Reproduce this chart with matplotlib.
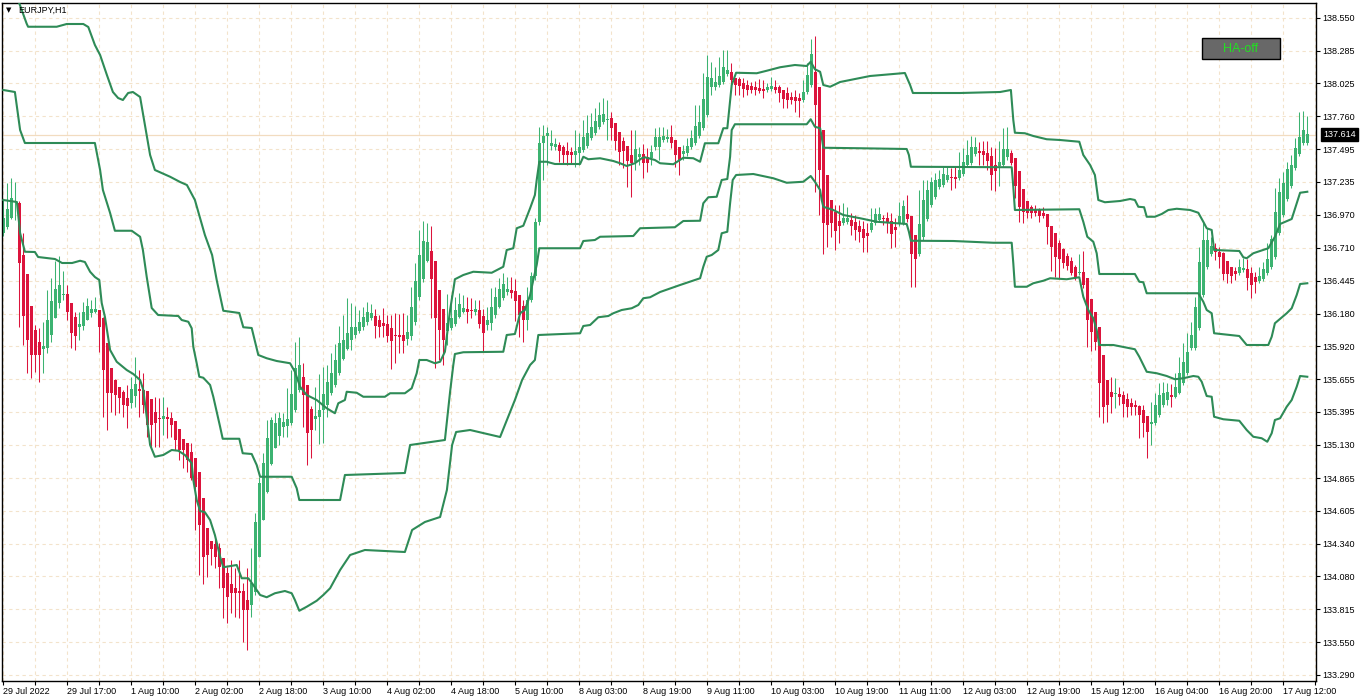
import matplotlib
matplotlib.use("Agg")
import numpy as np
import matplotlib.pyplot as plt
from matplotlib.patches import Rectangle
from matplotlib.transforms import blended_transform_factory

plt.rcParams["font.family"] = ["Liberation Sans", "DejaVu Sans"]

SYMBOL = "EURJPY,H1"
BID = 137.614

# hourly bars from 29 Jul 01:00 onwards
bar_open = [
    136.826, 136.874, 136.946, 137.074, 137.066, 136.650, 136.498, 136.242, 136.050, 135.954,
    135.898, 135.906, 136.010, 136.146, 136.266, 136.330, 136.338, 136.266, 136.154, 136.074,
    136.082, 136.130, 136.186, 136.194, 136.210, 136.146, 135.946, 135.746, 135.650, 135.594,
    135.554, 135.506, 135.466, 135.522, 135.578, 135.570, 135.562, 135.498, 135.394, 135.346,
    135.338, 135.354, 135.346, 135.322, 135.258, 135.178, 135.146, 135.074, 135.026, 134.914,
    134.706, 134.466, 134.362, 134.338, 134.306, 134.226, 134.106, 134.018, 133.986, 133.962,
    133.962, 133.890, 133.850, 133.954, 134.234, 134.530, 134.754, 134.978, 135.106, 135.202,
    135.274, 135.282, 135.306, 135.410, 135.570, 135.674, 135.610, 135.418, 135.338, 135.354,
    135.410, 135.450, 135.546, 135.610, 135.706, 135.818, 135.898, 135.970, 136.010, 136.042,
    136.074, 136.114, 136.146, 136.162, 136.130, 136.106, 136.098, 136.066, 136.010, 136.010,
    136.010, 135.978, 136.002, 136.114, 136.314, 136.458, 136.602, 136.682, 136.602, 136.370,
    136.218, 136.042, 136.066, 136.098, 136.154, 136.194, 136.218, 136.210, 136.194, 136.210,
    136.162, 136.090, 136.106, 136.170, 136.234, 136.306, 136.354, 136.370, 136.362, 136.330,
    136.242, 136.130, 136.290, 136.482, 136.914, 137.546, 137.602, 137.522, 137.514, 137.530,
    137.514, 137.482, 137.474, 137.450, 137.466, 137.490, 137.522, 137.586, 137.626, 137.674,
    137.714, 137.730, 137.746, 137.706, 137.634, 137.562, 137.522, 137.450, 137.394, 137.434,
    137.458, 137.434, 137.426, 137.514, 137.514, 137.570, 137.578, 137.594, 137.570, 137.514,
    137.458, 137.466, 137.514, 137.546, 137.602, 137.666, 137.770, 137.994, 137.994, 138.010,
    138.034, 138.098, 138.114, 138.066, 138.058, 138.026, 138.010, 138.002, 137.994, 137.986,
    137.978, 137.970, 137.978, 137.994, 137.994, 137.970, 137.946, 137.914, 137.914, 137.906,
    137.890, 137.954, 138.010, 138.114, 137.994, 137.650, 137.290, 137.090, 136.994, 136.922,
    136.906, 136.914, 136.930, 136.914, 136.882, 136.858, 136.826, 136.850, 136.906, 136.930,
    136.946, 136.946, 136.922, 136.874, 136.898, 136.906, 136.978, 136.962, 136.810, 136.658,
    136.794, 136.938, 137.050, 137.114, 137.194, 137.210, 137.250, 137.274, 137.274, 137.266,
    137.298, 137.370, 137.386, 137.458, 137.482, 137.482, 137.466, 137.442, 137.370, 137.362,
    137.370, 137.434, 137.466, 137.426, 137.322, 137.178, 137.082, 137.034, 137.018, 137.010,
    136.986, 136.978, 136.882, 136.826, 136.746, 136.698, 136.642, 136.602, 136.554, 136.506,
    136.514, 136.466, 136.298, 136.194, 136.074, 135.850, 135.650, 135.554, 135.538, 135.538,
    135.530, 135.498, 135.466, 135.450, 135.442, 135.410, 135.362, 135.298, 135.306, 135.370,
    135.450, 135.490, 135.530, 135.514, 135.546, 135.626, 135.706, 135.906, 135.906, 136.066,
    136.330, 136.554, 136.658, 136.706, 136.674, 136.666, 136.602, 136.554, 136.522, 136.506,
    136.530, 136.538, 136.506, 136.474, 136.442, 136.458, 136.506, 136.554, 136.634, 136.826,
    136.970, 137.098, 137.202, 137.346, 137.458, 137.546, 137.546,
]
bar_high = [
    137.090, 137.226, 137.266, 137.234, 137.082, 136.826, 136.498, 136.242, 136.090, 136.066,
    136.114, 136.370, 136.466, 136.602, 136.642, 136.522, 136.410, 136.266, 136.194, 136.194,
    136.274, 136.306, 136.290, 136.314, 136.210, 136.154, 135.946, 135.746, 135.658, 135.594,
    135.570, 135.610, 135.674, 135.834, 135.730, 135.706, 135.562, 135.498, 135.514, 135.506,
    135.514, 135.434, 135.394, 135.322, 135.258, 135.178, 135.146, 135.146, 135.026, 134.914,
    134.706, 134.466, 134.362, 134.386, 134.346, 134.226, 134.154, 134.210, 134.146, 134.210,
    134.026, 134.146, 134.306, 134.586, 134.874, 135.066, 135.330, 135.354, 135.386, 135.394,
    135.386, 135.586, 135.730, 135.954, 135.994, 135.786, 135.610, 135.442, 135.594, 135.698,
    135.754, 135.770, 135.866, 135.938, 136.082, 136.170, 136.306, 136.266, 136.242, 136.210,
    136.234, 136.274, 136.258, 136.218, 136.170, 136.226, 136.170, 136.170, 136.186, 136.178,
    136.186, 136.170, 136.394, 136.586, 136.850, 136.922, 136.906, 136.882, 136.602, 136.370,
    136.218, 136.338, 136.330, 136.314, 136.346, 136.330, 136.314, 136.306, 136.290, 136.290,
    136.218, 136.234, 136.386, 136.394, 136.466, 136.506, 136.474, 136.474, 136.458, 136.330,
    136.290, 136.394, 136.514, 136.946, 137.674, 137.690, 137.674, 137.650, 137.586, 137.554,
    137.530, 137.554, 137.514, 137.650, 137.626, 137.730, 137.770, 137.786, 137.826, 137.874,
    137.906, 137.890, 137.794, 137.706, 137.634, 137.594, 137.522, 137.650, 137.650, 137.514,
    137.538, 137.506, 137.530, 137.666, 137.674, 137.674, 137.658, 137.690, 137.570, 137.514,
    137.530, 137.586, 137.650, 137.850, 137.850, 138.106, 138.250, 138.194, 138.154, 138.234,
    138.290, 138.290, 138.186, 138.066, 138.074, 138.066, 138.050, 138.034, 138.042, 138.058,
    138.050, 138.026, 138.074, 138.050, 138.010, 137.970, 137.994, 137.954, 137.970, 137.946,
    138.050, 138.186, 138.378, 138.402, 137.994, 137.650, 137.290, 137.090, 137.050, 137.050,
    137.066, 137.034, 136.986, 136.970, 136.930, 136.922, 136.906, 137.026, 137.026, 137.034,
    136.970, 136.994, 136.986, 136.946, 137.074, 137.090, 137.130, 136.962, 136.810, 137.170,
    137.250, 137.250, 137.274, 137.306, 137.330, 137.354, 137.354, 137.346, 137.354, 137.474,
    137.506, 137.570, 137.602, 137.594, 137.554, 137.562, 137.562, 137.514, 137.506, 137.562,
    137.666, 137.674, 137.490, 137.426, 137.322, 137.178, 137.082, 137.050, 137.050, 137.026,
    137.034, 136.978, 136.882, 136.826, 136.770, 136.706, 136.666, 136.634, 136.570, 136.658,
    136.682, 136.466, 136.298, 136.194, 136.074, 135.850, 135.650, 135.674, 135.666, 135.594,
    135.562, 135.546, 135.506, 135.490, 135.450, 135.450, 135.362, 135.474, 135.546, 135.626,
    135.634, 135.626, 135.618, 135.706, 135.834, 135.946, 136.026, 136.114, 136.314, 136.714,
    136.914, 136.866, 136.794, 136.746, 136.714, 136.674, 136.602, 136.554, 136.554, 136.618,
    136.626, 136.618, 136.554, 136.514, 136.554, 136.594, 136.746, 136.810, 137.186, 137.266,
    137.314, 137.394, 137.450, 137.586, 137.794, 137.802, 137.762,
]
bar_low = [
    136.802, 136.858, 136.938, 136.930, 136.074, 135.930, 135.706, 135.666, 135.714, 135.634,
    135.706, 135.866, 135.954, 136.146, 136.226, 136.290, 136.130, 135.906, 135.890, 135.970,
    136.050, 136.130, 136.154, 136.186, 135.874, 135.354, 135.250, 135.394, 135.370, 135.386,
    135.354, 135.266, 135.426, 135.434, 135.354, 135.386, 135.194, 135.114, 135.114, 135.114,
    135.210, 135.186, 135.194, 135.090, 135.010, 134.946, 134.914, 134.850, 134.450, 134.090,
    134.018, 134.074, 134.170, 134.146, 133.986, 133.746, 133.706, 133.786, 133.754, 133.746,
    133.554, 133.490, 133.754, 133.930, 134.234, 134.530, 134.746, 134.970, 135.106, 135.130,
    135.194, 135.194, 135.290, 135.394, 135.554, 135.274, 134.970, 135.026, 135.250, 135.138,
    135.146, 135.354, 135.530, 135.594, 135.690, 135.810, 135.890, 135.890, 135.986, 136.026,
    136.050, 136.090, 136.130, 135.986, 135.994, 135.994, 135.954, 135.738, 135.786, 135.866,
    135.866, 135.930, 135.970, 136.090, 136.290, 136.434, 136.594, 136.146, 135.746, 135.810,
    135.770, 135.930, 136.050, 136.082, 136.146, 136.186, 136.106, 136.146, 136.170, 136.066,
    135.874, 136.050, 136.050, 136.146, 136.226, 136.290, 136.330, 136.306, 136.122, 135.994,
    135.954, 136.050, 136.274, 136.450, 136.890, 137.250, 137.370, 137.490, 137.490, 137.394,
    137.386, 137.370, 137.386, 137.354, 137.370, 137.474, 137.506, 137.570, 137.610, 137.658,
    137.698, 137.570, 137.570, 137.490, 137.370, 137.346, 137.194, 137.114, 137.330, 137.370,
    137.266, 137.314, 137.370, 137.490, 137.410, 137.554, 137.554, 137.506, 137.354, 137.290,
    137.410, 137.442, 137.498, 137.530, 137.586, 137.650, 137.754, 137.930, 137.970, 137.994,
    138.018, 138.082, 138.010, 137.930, 137.930, 137.914, 137.930, 137.946, 137.930, 137.946,
    137.906, 137.954, 137.962, 137.946, 137.874, 137.826, 137.826, 137.858, 137.794, 137.754,
    137.874, 137.938, 137.994, 137.154, 136.970, 136.658, 136.714, 136.794, 136.690, 136.746,
    136.890, 136.898, 136.810, 136.770, 136.754, 136.674, 136.674, 136.834, 136.890, 136.914,
    136.890, 136.826, 136.706, 136.714, 136.882, 136.890, 136.914, 136.394, 136.394, 136.642,
    136.770, 136.922, 137.034, 137.098, 137.178, 137.194, 137.234, 137.170, 137.186, 137.250,
    137.282, 137.354, 137.370, 137.442, 137.370, 137.370, 137.330, 137.170, 137.162, 137.202,
    137.354, 137.410, 137.370, 137.106, 136.914, 136.906, 136.946, 136.946, 136.962, 136.914,
    136.946, 136.738, 136.522, 136.474, 136.466, 136.546, 136.530, 136.490, 136.450, 136.490,
    136.386, 135.914, 135.882, 135.890, 135.354, 135.306, 135.314, 135.386, 135.426, 135.450,
    135.354, 135.354, 135.370, 135.370, 135.186, 135.194, 135.026, 135.130, 135.290, 135.354,
    135.434, 135.450, 135.434, 135.506, 135.538, 135.610, 135.690, 135.890, 135.890, 136.050,
    136.314, 136.538, 136.642, 136.610, 136.546, 136.450, 136.426, 136.426, 136.450, 136.490,
    136.514, 136.370, 136.306, 136.346, 136.426, 136.442, 136.490, 136.538, 136.618, 136.810,
    136.954, 137.082, 137.186, 137.330, 137.442, 137.530, 137.530,
]
bar_close = [
    136.946, 137.018, 137.106, 137.082, 136.586, 136.162, 135.970, 135.850, 135.850, 135.850,
    135.922, 136.130, 136.282, 136.378, 136.410, 136.338, 136.194, 136.026, 136.002, 136.098,
    136.194, 136.242, 136.218, 136.218, 136.074, 135.730, 135.546, 135.546, 135.530, 135.506,
    135.450, 135.442, 135.578, 135.618, 135.562, 135.450, 135.290, 135.290, 135.306, 135.338,
    135.362, 135.338, 135.290, 135.170, 135.090, 135.090, 135.010, 134.866, 134.794, 134.490,
    134.234, 134.250, 134.298, 134.234, 134.154, 133.986, 133.914, 133.946, 133.946, 133.946,
    133.810, 133.810, 134.026, 134.514, 134.826, 134.986, 135.186, 135.330, 135.306, 135.346,
    135.314, 135.338, 135.538, 135.746, 135.770, 135.530, 135.226, 135.250, 135.362, 135.410,
    135.538, 135.634, 135.706, 135.810, 135.946, 135.970, 136.026, 136.074, 136.074, 136.114,
    136.154, 136.194, 136.186, 136.082, 136.074, 136.082, 136.002, 135.962, 136.002, 135.994,
    135.962, 136.034, 136.234, 136.442, 136.650, 136.762, 136.754, 136.458, 136.146, 136.050,
    135.970, 136.106, 136.146, 136.210, 136.258, 136.226, 136.194, 136.202, 136.218, 136.098,
    136.026, 136.130, 136.234, 136.314, 136.378, 136.418, 136.378, 136.346, 136.282, 136.170,
    136.130, 136.290, 136.482, 136.914, 137.546, 137.602, 137.626, 137.546, 137.538, 137.482,
    137.450, 137.450, 137.450, 137.482, 137.514, 137.594, 137.626, 137.674, 137.722, 137.770,
    137.778, 137.738, 137.666, 137.562, 137.474, 137.482, 137.402, 137.386, 137.498, 137.458,
    137.386, 137.386, 137.474, 137.594, 137.594, 137.602, 137.594, 137.546, 137.450, 137.410,
    137.482, 137.522, 137.586, 137.682, 137.714, 137.898, 138.074, 138.066, 138.034, 138.082,
    138.154, 138.130, 138.050, 138.010, 138.002, 137.978, 137.970, 137.970, 137.970, 137.962,
    137.962, 137.994, 138.002, 137.970, 137.946, 137.898, 137.890, 137.890, 137.882, 137.882,
    137.954, 138.090, 138.258, 137.850, 137.330, 136.906, 136.890, 136.906, 136.842, 136.882,
    136.946, 136.946, 136.882, 136.850, 136.834, 136.786, 136.802, 136.906, 136.978, 136.978,
    136.938, 136.914, 136.818, 136.850, 136.962, 137.042, 136.938, 136.658, 136.618, 136.898,
    137.090, 137.170, 137.234, 137.250, 137.258, 137.298, 137.290, 137.266, 137.258, 137.330,
    137.394, 137.450, 137.514, 137.514, 137.466, 137.450, 137.402, 137.290, 137.322, 137.394,
    137.498, 137.498, 137.386, 137.202, 137.034, 136.994, 136.986, 136.986, 136.986, 136.962,
    136.962, 136.874, 136.714, 136.634, 136.618, 136.586, 136.562, 136.506, 136.474, 136.514,
    136.410, 136.130, 136.034, 135.954, 135.626, 135.434, 135.450, 135.514, 135.546, 135.514,
    135.458, 135.434, 135.434, 135.434, 135.370, 135.306, 135.234, 135.314, 135.450, 135.530,
    135.546, 135.554, 135.514, 135.594, 135.706, 135.794, 135.874, 136.010, 136.234, 136.594,
    136.770, 136.770, 136.722, 136.674, 136.634, 136.498, 136.498, 136.482, 136.498, 136.554,
    136.546, 136.466, 136.410, 136.434, 136.482, 136.538, 136.618, 136.778, 136.994, 137.154,
    137.226, 137.338, 137.370, 137.506, 137.594, 137.650, 137.614,
]

# channel lines: (bar index, price) vertices
upper_band = [
    (0, 139.05), (3.7, 138.69), (5.85, 138.50), (6.2, 138.476), (13.35, 138.476), (15.85, 138.498),
    (20, 138.498), (21.25, 138.474), (22.9, 138.33), (24.2, 138.25), (25.9, 138.09), (27.4, 137.954),
    (28.7, 137.906), (29.9, 137.89), (31.2, 137.946), (32.4, 137.954), (34.2, 137.914), (35.4, 137.69),
    (36.7, 137.45), (37.9, 137.33), (41.7, 137.276), (44.2, 137.234), (45.9, 137.21), (47.9, 137.09),
    (50.4, 136.81), (52.2, 136.65), (53.35, 136.45), (55, 136.204), (59, 136.186), (60, 136.072),
    (62.1, 136.066), (63.75, 135.85), (65.85, 135.824), (68.35, 135.802), (71.7, 135.784), (72.9, 135.716),
    (74.2, 135.596), (75.85, 135.53), (78.35, 135.49), (80.85, 135.424), (82.9, 135.384), (83.75, 135.464),
    (85.4, 135.49), (85.85, 135.556), (88.35, 135.548), (90, 135.516), (95.4, 135.516), (96.7, 135.544),
    (100.4, 135.544), (102.1, 135.584), (103.35, 135.704), (104, 135.81), (105.85, 135.81), (107.9, 135.784),
    (109.2, 135.796), (110.4, 135.876), (111.7, 136.21), (112.5, 136.37), (112.9, 136.456), (115, 136.49),
    (117.5, 136.516), (122.1, 136.508), (125, 136.556), (125.85, 136.69), (127.5, 136.704), (128.35, 136.864),
    (130, 136.884), (131.7, 137.024), (132.9, 137.13), (133.35, 137.25), (134, 137.396), (135.85, 137.396),
    (137.9, 137.378), (144.2, 137.378), (145, 137.436), (146.25, 137.416), (149.2, 137.424), (152.5, 137.402),
    (154.2, 137.384), (155.85, 137.362), (157.9, 137.384), (159.6, 137.424), (160.4, 137.432), (162.9, 137.41),
    (164.2, 137.384), (167.5, 137.376), (170, 137.428), (172.5, 137.424), (174.2, 137.396), (175.4, 137.544),
    (178.75, 137.544), (180, 137.664), (181, 137.664), (182.1, 138.01), (183.2, 138.108), (188.35, 138.104),
    (190.85, 138.124), (194.2, 138.152), (197.9, 138.17), (200.85, 138.162), (201.85, 138.196), (202.9, 138.136),
    (204.2, 138.116), (205, 138.01), (206.7, 137.996), (209.2, 138.034), (216.7, 138.082), (225.4, 138.106),
    (226.7, 138.01), (227.4, 137.946), (239.2, 137.946), (249.2, 137.954), (251.9, 137.97), (252.5, 137.73),
    (252.9, 137.628), (255.4, 137.624), (257.5, 137.602), (260.85, 137.576), (264.2, 137.57), (269, 137.556),
    (270, 137.45), (271.7, 137.37), (272.9, 137.29), (273.75, 137.09), (275.4, 137.072), (279.2, 137.082),
    (281.7, 137.098), (282.9, 137.09), (283.75, 137.036), (285.2, 137.032), (285.85, 136.956), (287.9, 136.956),
    (289.6, 136.978), (291.25, 137.01), (293.35, 137.02), (296.7, 137.01), (298.75, 136.988), (300, 136.916),
    (300.85, 136.864), (302.1, 136.85), (302.7, 136.69), (309, 136.682), (310, 136.632), (310.85, 136.624),
    (312.5, 136.664), (316.25, 136.704), (317.9, 136.796), (319.2, 136.898), (322.1, 136.938), (323.35, 137.064),
    (324.2, 137.148), (326, 137.156),
]
middle_band = [
    (0, 137.97), (2.9, 137.954), (4.2, 137.65), (5.4, 137.546), (22.9, 137.546), (24.2, 137.33),
    (24.9, 137.17), (26.7, 136.986), (27.9, 136.844), (32.1, 136.844), (34.2, 136.796), (34.9, 136.69),
    (35.85, 136.476), (37.1, 136.226), (38.7, 136.17), (43.75, 136.162), (44.6, 136.13), (46.25, 136.116),
    (47.1, 136.064), (47.5, 135.916), (48.35, 135.784), (49, 135.676), (50, 135.668), (51.7, 135.61),
    (52.5, 135.516), (53.35, 135.396), (54.2, 135.276), (54.85, 135.18), (59, 135.18), (59.85, 135.064),
    (62.1, 135.058), (63.35, 134.97), (64.2, 134.876), (72.1, 134.876), (73.35, 134.784), (74, 134.69),
    (84.2, 134.69), (85.4, 134.89), (100.4, 134.906), (101.7, 135.13), (110.4, 135.17), (111.7, 135.556),
    (112.5, 135.77), (112.9, 135.858), (115, 135.872), (125, 135.876), (125.85, 136.01), (127.9, 136.018),
    (129.2, 136.184), (130.4, 136.21), (131.7, 136.33), (132.5, 136.45), (133.35, 136.57), (134, 136.704),
    (144.2, 136.704), (145, 136.762), (147.9, 136.77), (149.2, 136.796), (157.5, 136.802), (159.2, 136.864),
    (167.9, 136.872), (170, 136.922), (174.2, 136.924), (175, 137.064), (176.25, 137.112), (178.35, 137.116),
    (179.6, 137.25), (181, 137.258), (181.7, 137.436), (182.1, 137.65), (182.9, 137.696), (200.85, 137.696),
    (201.85, 137.736), (202.9, 137.676), (204.2, 137.664), (204.6, 137.596), (205, 137.508), (214.2, 137.504),
    (225.85, 137.498), (226.4, 137.45), (226.9, 137.356), (252.1, 137.352), (252.5, 137.196), (252.9, 137.01),
    (269, 137.016), (270, 136.916), (271, 136.796), (272.5, 136.756), (273.35, 136.664), (274, 136.498),
    (282.9, 136.498), (284, 136.436), (285, 136.432), (285.85, 136.344), (298.75, 136.344), (300, 136.276),
    (300.85, 136.21), (302.1, 136.184), (302.7, 136.024), (309, 136.002), (310.85, 135.93), (316.25, 135.93),
    (317.1, 135.996), (317.9, 136.104), (320.85, 136.184), (322.1, 136.224), (323.35, 136.33), (324.2, 136.418),
    (326, 136.424),
]
lower_band = [
    (0, 137.09), (3.4, 137.074), (4.2, 136.826), (5.4, 136.676), (7.9, 136.674), (8.7, 136.634),
    (12.9, 136.618), (14.7, 136.586), (17.2, 136.586), (19.2, 136.604), (20.4, 136.594), (21.7, 136.516),
    (22.9, 136.474), (24, 136.45), (24.6, 136.266), (25.4, 136.156), (26.7, 135.89), (28.35, 135.796),
    (30.85, 135.73), (32.5, 135.698), (34.2, 135.65), (35, 135.57), (35.85, 135.356), (36.7, 135.13),
    (37.9, 135.036), (40, 135.05), (42.1, 135.09), (43.75, 135.084), (45.4, 135.05), (47.1, 134.984),
    (47.5, 134.85), (48.35, 134.69), (49.2, 134.602), (50.4, 134.592), (51.7, 134.53), (52.9, 134.41),
    (54.2, 134.236), (55, 134.152), (58.35, 134.17), (59.6, 134.064), (61.25, 134.064), (62.5, 134.01),
    (64.2, 133.93), (65.85, 133.912), (67.9, 133.944), (70.4, 133.962), (72.1, 133.944), (72.9, 133.89),
    (74, 133.804), (75.85, 133.836), (78.35, 133.884), (80, 133.93), (81.7, 133.984), (84.2, 134.13),
    (86.7, 134.25), (90.4, 134.29), (100.4, 134.274), (102.2, 134.45), (105.4, 134.514), (109.2, 134.554),
    (110.9, 134.77), (112.2, 135.13), (113.2, 135.234), (116.7, 135.25), (124.2, 135.194), (125.9, 135.33),
    (127.9, 135.49), (129.7, 135.65), (131.7, 135.77), (132.9, 135.81), (133.75, 136.01), (144.2, 136.024),
    (145, 136.082), (146.7, 136.09), (148.75, 136.152), (151.25, 136.162), (152.5, 136.184), (154.6, 136.21),
    (157.1, 136.224), (158.75, 136.25), (160, 136.304), (161.7, 136.312), (164.2, 136.354), (169.2, 136.41),
    (174.2, 136.464), (175, 136.556), (175.85, 136.636), (177.1, 136.65), (178.75, 136.69), (179.6, 136.824),
    (181, 136.836), (181.7, 137.064), (182.35, 137.25), (183.2, 137.29), (187.5, 137.298), (192.5, 137.264),
    (195.85, 137.228), (200, 137.236), (201.85, 137.282), (202.9, 137.236), (204.2, 137.17), (204.6, 137.09),
    (205, 137.036), (207.5, 137.01), (210, 136.97), (214.2, 136.944), (218.35, 136.916), (225.85, 136.898),
    (226.4, 136.836), (226.9, 136.764), (237.5, 136.762), (241.7, 136.756), (247.5, 136.748), (252.1, 136.748),
    (252.5, 136.584), (252.9, 136.396), (255.85, 136.396), (257.5, 136.424), (260, 136.444), (261.7, 136.464),
    (265.85, 136.456), (269, 136.472), (270, 136.316), (271.25, 136.21), (272.5, 136.144), (273.35, 136.05),
    (274, 135.93), (277.5, 135.93), (282.9, 135.896), (284, 135.836), (285.85, 135.716), (288.35, 135.704),
    (290.85, 135.682), (292.9, 135.656), (295, 135.664), (297.5, 135.682), (298.75, 135.676), (299.6, 135.636),
    (300.85, 135.522), (302.1, 135.516), (302.7, 135.356), (305, 135.336), (309, 135.324), (310.85, 135.25),
    (312.5, 135.196), (314.6, 135.184), (316, 135.156), (317.1, 135.224), (317.9, 135.33), (319.2, 135.344),
    (320.85, 135.436), (322.1, 135.49), (323.35, 135.596), (324.2, 135.682), (326, 135.676),
]

price_labels = ["138.550", "138.285", "138.025", "137.760", "137.495", "137.235", "136.970",
                "136.710", "136.445", "136.180", "135.920", "135.655", "135.395", "135.130",
                "134.865", "134.605", "134.340", "134.080", "133.815", "133.550", "133.290"]
time_labels = ["29 Jul 2022", "29 Jul 17:00", "1 Aug 10:00", "2 Aug 02:00", "2 Aug 18:00",
               "3 Aug 10:00", "4 Aug 02:00", "4 Aug 18:00", "5 Aug 10:00", "8 Aug 03:00",
               "8 Aug 19:00", "9 Aug 11:00", "10 Aug 03:00", "10 Aug 19:00", "11 Aug 11:00",
               "12 Aug 03:00", "12 Aug 19:00", "15 Aug 12:00", "16 Aug 04:00", "16 Aug 20:00",
               "17 Aug 12:00"]

BULL = "#3cb371"
BEAR = "#dc143c"
BAND = "#2e8b57"
GRID = "#f3e3cb"

W, H = 1362, 700
fig = plt.figure(figsize=(W / 100, H / 100), dpi=100)
fig.patch.set_facecolor("white")
ax = fig.add_axes([2 / W, 19 / H, 1314 / W, 678 / H])

o, hi, lo, c = map(np.array, (bar_open, bar_high, bar_low, bar_close))
assert len(o) == len(hi) == len(lo) == len(c)
n = len(c)
idx = np.arange(n)
cols = np.where(c >= o, BULL, BEAR)

ax.vlines(idx, lo, hi, colors=cols, linewidth=0.75, zorder=2)
ax.bar(idx, np.maximum(np.abs(c - o), 0.008), bottom=np.minimum(o, c), width=0.72,
       color=cols, linewidth=0, zorder=2)

for band in (upper_band, middle_band, lower_band):
    bx, by = zip(*band)
    ax.plot(bx, by, color=BAND, linewidth=1.5, zorder=3)

ax.axhline(BID, color="#f2dcc0", linewidth=0.9, zorder=1)

ax.set_xlim(-0.325, 328.175)
ax.set_ylim(133.242, 138.666)

ax.yaxis.tick_right()
ax.set_yticks([float(s) for s in price_labels])
ax.set_yticklabels(price_labels)
xt = np.arange(0, n + 2, 8)
ax.set_xticks(xt)
ax.set_xticklabels([time_labels[k // 16] if k % 16 == 0 and k // 16 < len(time_labels) else ""
                    for k in xt])
ax.tick_params(axis="y", direction="out", length=3, width=0.8, pad=1.5, labelsize=6.5,
               right=True, left=False)
ax.tick_params(axis="x", direction="out", length=3, width=0.8, pad=1.5, labelsize=6.5)
for lab in ax.get_xticklabels():
    lab.set_horizontalalignment("left")

ax.grid(True, color=GRID, linestyle=(0, (3, 3)), linewidth=0.8)
ax.set_axisbelow(True)
for sp in ax.spines.values():
    sp.set_color("black")
    sp.set_linewidth(1)

trans = blended_transform_factory(ax.transAxes, ax.transData)
ax.text(1.0 + 7 / 1314, BID, f"{BID:.3f}", transform=trans, ha="left", va="center",
        fontsize=6.5, color="white", clip_on=False,
        bbox=dict(boxstyle="square,pad=0.25", fc="black", ec="black"))

# HA toggle button
fig.add_artist(Rectangle((1202 / W, 1 - 59 / H), 78 / W, 21 / H, transform=fig.transFigure,
                         facecolor="#686868", edgecolor="black", linewidth=1))
fig.text(1241 / W, 1 - 48.5 / H, "HA-off", color="#22e022", fontsize=9, ha="center", va="center")

fig.text(8.5 / W, 1 - 10.5 / H, "\u25bc", fontsize=5, family="DejaVu Sans", ha="center", va="center")
fig.text(18 / W, 1 - 10.5 / H, SYMBOL, fontsize=6.5, ha="left", va="center")

fig.savefig("out.png", dpi=100)
